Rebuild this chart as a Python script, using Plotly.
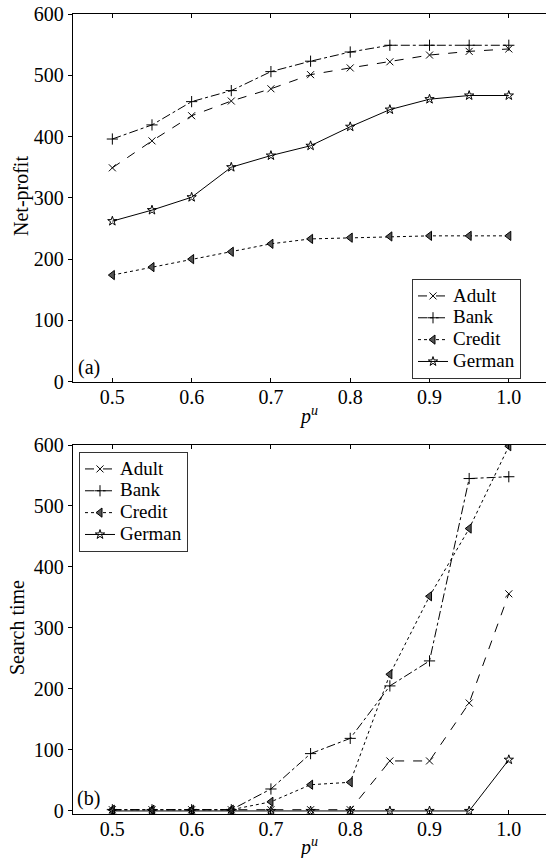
import plotly.graph_objects as go
from plotly.subplots import make_subplots

# ---------------- data ----------------
pu = [0.5, 0.55, 0.6, 0.65, 0.7, 0.75, 0.8, 0.85, 0.9, 0.95, 1.0]
x_tick_vals = [0.5, 0.6, 0.7, 0.8, 0.9, 1.0]
x_tick_text = ["0.5", "0.6", "0.7", "0.8", "0.9", "1.0"]
y_tick_vals = [0, 100, 200, 300, 400, 500, 600]

profit_adult = [349, 393, 434, 458, 478, 501, 512, 522, 533, 539, 543]
profit_bank = [396, 419, 457, 475, 506, 523, 538, 549, 549, 549, 549]
profit_credit = [174, 187, 200, 212, 225, 233, 235, 237, 238, 238, 238]
profit_german = [262, 280, 301, 350, 369, 385, 416, 444, 461, 467, 467]

time_adult = [2, 2, 2, 2, 2, 2, 2, 82, 82, 177, 356]
time_bank = [2, 2, 2, 2, 36, 94, 119, 205, 246, 545, 548]
time_credit = [2, 2, 2, 2, 15, 43, 47, 224, 352, 463, 598]
time_german = [0, 0, 0, 0, 0, 0, 0, 0, 0, 0, 84]

names = ["Adult", "Bank", "Credit", "German"]

# ---------------- styles ----------------
W, H = 546, 858
FONT = "Liberation Serif"


def px(x):
    return x / W


def py(y):
    return 1 - y / H


styles = {
    "Adult": dict(dash="dash", symbol="x-thin-open", size=7, fill="black"),
    "Bank": dict(dash="dashdot", symbol="cross-thin-open", size=8, fill="black"),
    "Credit": dict(dash="dot", symbol="triangle-left", size=8, fill="#555555"),
    "German": dict(dash="solid", symbol="star-open", size=7, fill="black"),
}

fig = make_subplots(rows=2, cols=1)

series_top = [profit_adult, profit_bank, profit_credit, profit_german]
series_bot = [time_adult, time_bank, time_credit, time_german]

for row, series, leg in [(1, series_top, "legend"), (2, series_bot, "legend2")]:
    for name, vals in zip(names, series):
        st = styles[name]
        fig.add_trace(
            go.Scatter(
                x=pu,
                y=vals,
                name='<span style="font-size:19px">' + name + "</span>",
                mode="lines+markers",
                legend=leg,
                line=dict(color="black", width=1, dash=st["dash"]),
                marker=dict(
                    symbol=st["symbol"],
                    size=st["size"],
                    color=st["fill"],
                    line=dict(color="black", width=1),
                ),
            ),
            row=row,
            col=1,
        )

xdom = [px(72.7), 1.0]
xaxis_common = dict(
    range=[0.45, 1.0469],
    tickmode="array",
    tickvals=x_tick_vals,
    ticktext=x_tick_text,
    ticks="inside",
    ticklen=4,
    tickcolor="black",
    ticklabelstandoff=-3,
    showline=True,
    linecolor="black",
    linewidth=1,
    mirror="allticks",
    showgrid=False,
    zeroline=False,
    automargin=False,
    tickfont=dict(family=FONT, size=20, color="black"),
    domain=xdom,
)
yaxis_common = dict(
    tickmode="array",
    tickvals=y_tick_vals,
    ticks="outside",
    ticklen=4,
    tickcolor="black",
    showline=True,
    linecolor="black",
    linewidth=1,
    mirror=False,
    showgrid=False,
    zeroline=False,
    automargin=False,
    tickfont=dict(family=FONT, size=20, color="black"),
)

fig.update_layout(
    xaxis=dict(**xaxis_common, anchor="y"),
    xaxis2=dict(**xaxis_common, anchor="y2"),
    yaxis=dict(**yaxis_common, range=[0, 600], domain=[py(381.7), py(14)]),
    yaxis2=dict(**yaxis_common, range=[-5, 600], domain=[py(814), py(445)]),
)

legend_common = dict(
    xanchor="left",
    yanchor="top",
    bgcolor="white",
    bordercolor="#333333",
    borderwidth=1,
    font=dict(family=FONT, size=14.5, color="black"),
    itemwidth=30,
    tracegroupgap=0,
)
fig.update_layout(
    legend=dict(**legend_common, x=px(412), y=py(279)),
    legend2=dict(**legend_common, x=px(79), y=py(452)),
)

annots = [
    dict(text="(a)", x=px(89), y=py(367)),
    dict(text="(b)", x=px(88), y=py(798)),
    dict(text="<i>p</i><sup><i>u</i></sup>", x=px(308), y=py(415)),
    dict(text="<i>p</i><sup><i>u</i></sup>", x=px(308), y=py(846)),
    dict(text="Net-profit", x=px(21), y=py(196), textangle=-90),
    dict(text="Search time", x=px(17), y=py(628), textangle=-90),
]
for a in annots:
    fig.add_annotation(
        xref="paper",
        yref="paper",
        xanchor="center",
        yanchor="middle",
        showarrow=False,
        font=dict(family=FONT, size=20, color="black"),
        **a,
    )

fig.update_layout(
    width=W,
    height=H,
    margin=dict(l=0, r=0, t=0, b=0, autoexpand=False),
    paper_bgcolor="white",
    plot_bgcolor="white",
    showlegend=True,
    template="none",
)

fig.write_html(
    "out.html",
    config={"displayModeBar": False},
    post_script="document.body.style.margin='0';document.body.style.overflow='hidden';",
)
